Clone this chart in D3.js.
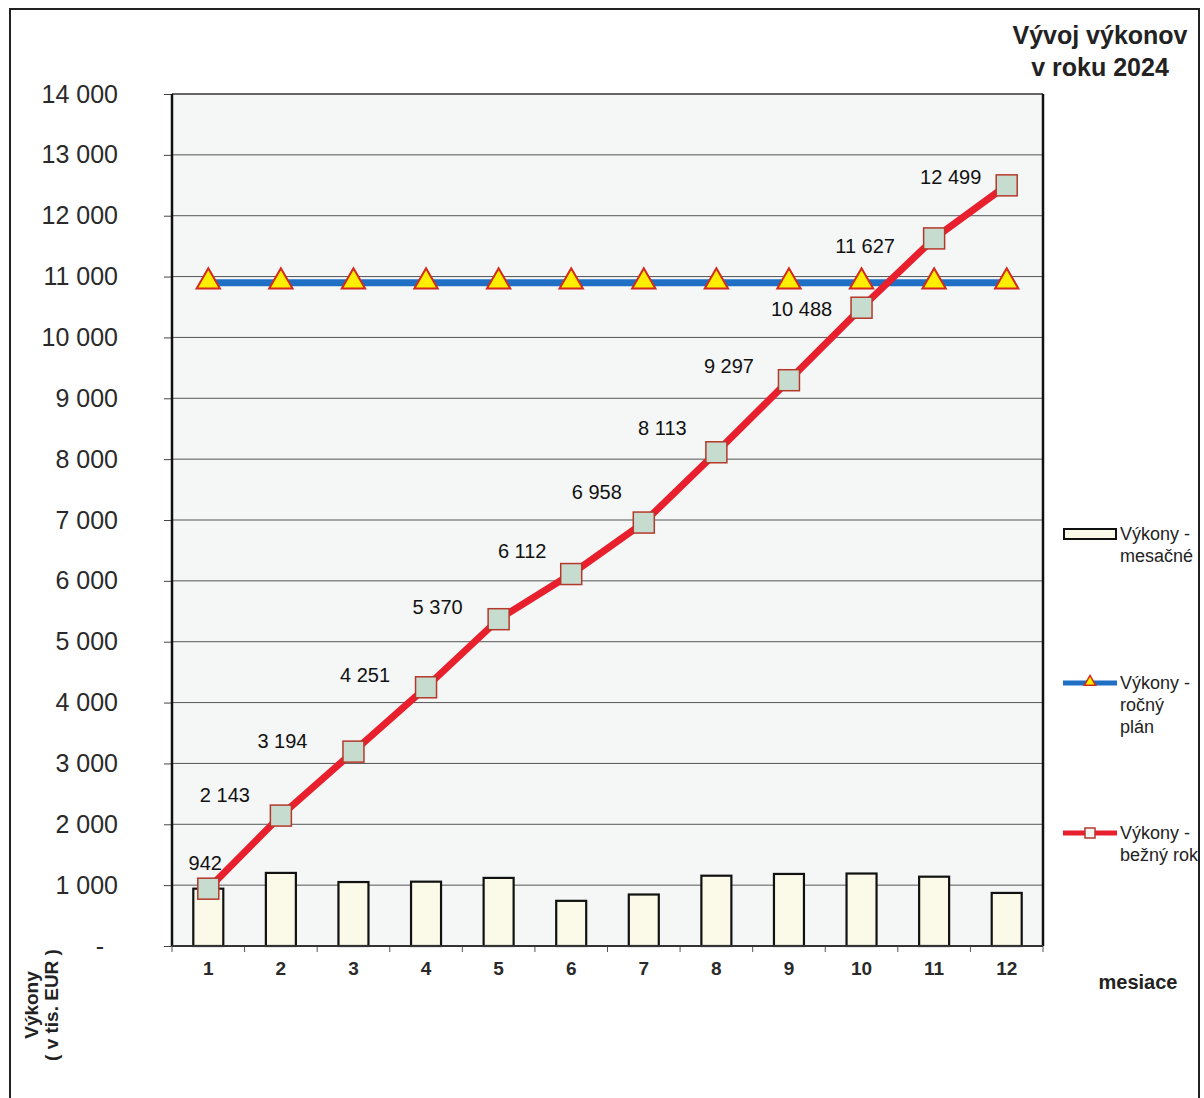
<!DOCTYPE html>
<html><head><meta charset="utf-8">
<script src="https://cdn.jsdelivr.net/npm/d3@7/dist/d3.min.js"></script>
<style>body{margin:0;background:#fff;} text{font-family:"Liberation Sans",Arial,sans-serif;}</style>
</head><body>
<svg id="c" width="1204" height="1098"></svg>
<script>
const months = ["1","2","3","4","5","6","7","8","9","10","11","12"];
const monthly = [942, 1201, 1051, 1057, 1119, 742, 846, 1155, 1184, 1191, 1139, 872];
const plan = [10900, 10900, 10900, 10900, 10900, 10900, 10900, 10900, 10900, 10900, 10900, 10900];
const cumulative = [942, 2143, 3194, 4251, 5370, 6112, 6958, 8113, 9297, 10488, 11627, 12499];
const yTicks = [0, 1000, 2000, 3000, 4000, 5000, 6000, 7000, 8000, 9000, 10000, 11000, 12000, 13000, 14000];
const titleLines = ["Vývoj výkonov", "v roku 2024"];
const legendItems = [
  {key:"bar", lines:["Výkony -", "mesačné"]},
  {key:"plan", lines:["Výkony -", "ročný", "plán"]},
  {key:"cum", lines:["Výkony -", "bežný rok"]}
];
// label nudges (layout only): label centre relative to its point
const labelNudge = [[-3,-26],[-56,-21],[-71,-11],[-61,-12],[-61,-12],[-49,-23],[-47,-31],[-54,-24],[-60,-14],[-60,1],[-69,8],[-56,-8]];

const svg = d3.select("#c");
const L = 172, R = 1043, T = 94, B = 946;
const x = d3.scaleBand().domain(months).range([L, R]).padding(0);
const y = d3.scaleLinear().domain([0, 14000]).range([B, T]);
const cx = d => x(d) + x.bandwidth()/2;

// outer frame
svg.append("rect").attr("x",10).attr("y",9).attr("width",1189).attr("height",1100)
  .attr("fill","none").attr("stroke","#222").attr("stroke-width",2);

// plot background
svg.append("rect").attr("x",L).attr("y",T).attr("width",R-L).attr("height",B-T).attr("fill","#f5f7f7");

// grid
svg.append("g").selectAll("line").data(yTicks.filter(v=>v>0 && v<14000)).join("line")
  .attr("x1",L).attr("x2",R).attr("y1",d=>y(d)).attr("y2",d=>y(d))
  .attr("stroke","#555").attr("stroke-width",1);

// y axis
const fmt = v => v === 0 ? "-" : d3.format(",")(v).replace(/,/g, " ");
const yAx = svg.append("g").attr("transform",`translate(${L},0)`)
  .call(d3.axisLeft(y).tickValues(yTicks).tickFormat(fmt).tickSize(8).tickPadding(46));
yAx.select(".domain").remove();
yAx.selectAll(".tick line").attr("stroke","#444");
yAx.selectAll(".tick text").attr("font-size",25).attr("fill","#2a2a2a")
  .attr("font-family","Liberation Sans, Arial, sans-serif")
  .attr("dx", d => d===0 ? -14 : 0);

// x axis
const xAx = svg.append("g").attr("transform",`translate(0,${B})`)
  .call(d3.axisBottom(x).tickSize(0).tickPadding(16));
xAx.select(".domain").remove();
xAx.selectAll(".tick text").attr("font-size",19).attr("font-weight","bold").attr("fill","#2a2a2a")
  .attr("font-family","Liberation Sans, Arial, sans-serif");
// boundary ticks
svg.append("g").selectAll("line").data(months).join("line")
  .attr("x1",d=>x(d)).attr("x2",d=>x(d)).attr("y1",B).attr("y2",B+6)
  .attr("stroke","#555").attr("stroke-width",1);
svg.append("line").attr("x1",R).attr("x2",R).attr("y1",B).attr("y2",B+6).attr("stroke","#555");

// bars
const bw = 30;
svg.append("g").selectAll("rect").data(monthly).join("rect")
  .attr("x",(d,i)=>cx(months[i])-bw/2).attr("width",bw)
  .attr("y",d=>y(d)).attr("height",d=>B-y(d))
  .attr("fill","#fbf9e8").attr("stroke","#111").attr("stroke-width",2.2);

// plot frame
svg.append("line").attr("x1",L).attr("x2",R).attr("y1",T).attr("y2",T).attr("stroke","#333").attr("stroke-width",1.5);
svg.append("line").attr("x1",L).attr("x2",L).attr("y1",T).attr("y2",B).attr("stroke","#111").attr("stroke-width",2.5);
svg.append("line").attr("x1",R).attr("x2",R).attr("y1",T).attr("y2",B).attr("stroke","#111").attr("stroke-width",2.5);
svg.append("line").attr("x1",L).attr("x2",R).attr("y1",B).attr("y2",B).attr("stroke","#333").attr("stroke-width",2);

// plan line
const line = d3.line().x((d,i)=>cx(months[i])).y(d=>y(d));
svg.append("path").datum(plan).attr("d",line).attr("fill","none")
  .attr("stroke","#1f6fc5").attr("stroke-width",7);
const tri = d3.symbol().type(d3.symbolTriangle).size(235);
svg.append("g").selectAll("path").data(plan).join("path")
  .attr("d",tri).attr("transform",(d,i)=>`translate(${cx(months[i])},${y(d)-1})`)
  .attr("fill","#ffee00").attr("stroke","#d42a1c").attr("stroke-width",2);

// cumulative line
svg.append("path").datum(cumulative).attr("d",line).attr("fill","none")
  .attr("stroke","#e8202e").attr("stroke-width",7).attr("stroke-linejoin","round");
const sq = 21;
svg.append("g").selectAll("rect").data(cumulative).join("rect")
  .attr("x",(d,i)=>cx(months[i])-sq/2).attr("y",d=>y(d)-sq/2)
  .attr("width",sq).attr("height",sq)
  .attr("fill","#c5dccf").attr("stroke","#b5392a").attr("stroke-width",1.5);

// data labels
svg.append("g").selectAll("text").data(cumulative).join("text")
  .attr("x",(d,i)=>cx(months[i])+labelNudge[i][0])
  .attr("y",(d,i)=>y(d)+labelNudge[i][1])
  .attr("text-anchor","middle").attr("dominant-baseline","central")
  .attr("font-size",20).attr("fill","#111")
  .text(d=>d3.format(",")(d).replace(/,/g," "));

// title
svg.append("text").attr("x",1100).attr("y",44).attr("text-anchor","middle")
  .attr("font-size",25).attr("font-weight","bold").attr("fill","#222")
  .selectAll("tspan").data(titleLines).join("tspan")
  .attr("x",1100).attr("dy",(d,i)=>i?32:0).text(d=>d);

// x title
svg.append("text").attr("x",1138).attr("y",989).attr("text-anchor","middle")
  .attr("font-size",20).attr("font-weight","bold").attr("fill","#222").text("mesiace");

// y title
const yt = svg.append("text").attr("transform","translate(38,1005) rotate(-90)")
  .attr("text-anchor","middle").attr("font-size",19).attr("font-weight","bold").attr("fill","#222");
yt.append("tspan").attr("x",0).attr("dy",0).text("Výkony");
yt.append("tspan").attr("x",0).attr("dy",20).text("( v tis. EUR )");

// legend
const legY = [534, 683, 833];
const lg = svg.append("g");
legendItems.forEach((it,k)=>{
  const yy = legY[k];
  if (it.key==="bar") {
    lg.append("rect").attr("x",1064).attr("y",yy-5).attr("width",52).attr("height",10)
      .attr("fill","#fbf9e8").attr("stroke","#111").attr("stroke-width",2);
  } else if (it.key==="plan") {
    lg.append("line").attr("x1",1063).attr("x2",1117).attr("y1",yy).attr("y2",yy)
      .attr("stroke","#1f6fc5").attr("stroke-width",5);
    lg.append("path").attr("d",d3.symbol().type(d3.symbolTriangle).size(55))
      .attr("transform",`translate(1090,${yy-1})`).attr("fill","#ffee00").attr("stroke","#d42a1c").attr("stroke-width",1.5);
  } else {
    lg.append("line").attr("x1",1063).attr("x2",1117).attr("y1",yy).attr("y2",yy)
      .attr("stroke","#e8202e").attr("stroke-width",5);
    lg.append("rect").attr("x",1085).attr("y",yy-5).attr("width",10).attr("height",10)
      .attr("fill","#f4f4f0").attr("stroke","#b5392a").attr("stroke-width",1.5);
  }
  const t = lg.append("text").attr("x",1120).attr("y",yy+6).attr("font-size",18).attr("fill","#222");
  it.lines.forEach((ln,j)=>t.append("tspan").attr("x",1120).attr("dy",j?22:0).text(ln));
});
</script>
</body></html>
